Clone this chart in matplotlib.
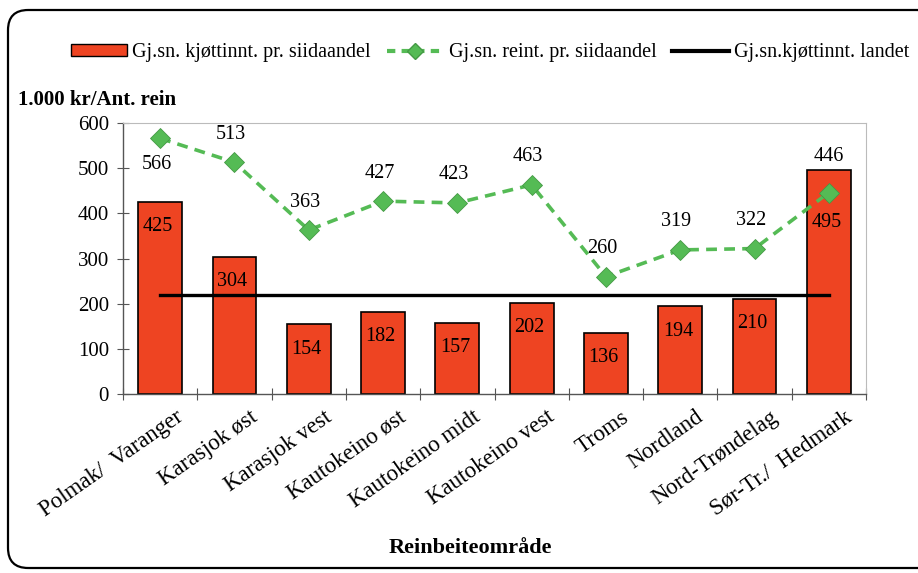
import matplotlib.pyplot as plt
from matplotlib.patches import FancyBboxPatch
from matplotlib.lines import Line2D
from matplotlib.patches import Patch
import numpy as np

plt.rcParams['font.family'] = ['Liberation Serif', 'DejaVu Serif']

areas = ["Polmak/  Varanger", "Karasjok øst", "Karasjok vest", "Kautokeino øst",
         "Kautokeino midt", "Kautokeino vest", "Troms", "Nordland",
         "Nord-Trøndelag", "Sør-Tr./  Hedmark"]
kjott = [425, 304, 154, 182, 157, 202, 136, 194, 210, 495]
reint = [566, 513, 363, 427, 423, 463, 260, 319, 322, 446]
landet = 220

red = "#ee4422"
green = "#55bb55"

fig = plt.figure(figsize=(9.18, 5.73), dpi=100)
ax = fig.add_axes([123 / 918, 1 - 394 / 573, 743 / 918, 271 / 573])

x = np.arange(len(areas))
ax.bar(x, kjott, width=0.59, color=red, edgecolor="black", linewidth=1.2, zorder=2)
ax.plot([x[0], x[-1]], [landet, landet], color="black", linewidth=2.4, zorder=3)
ax.plot(x, reint, color=green, linestyle=(0, (3, 2)), linewidth=2.6, marker="D",
        markersize=10, markerfacecolor=green, markeredgecolor="#449944",
        markeredgewidth=0.6, zorder=4)

# data labels
for i, v in enumerate(kjott):
    off = 115 if i == len(kjott) - 1 else 55
    ax.text(i - 0.03, v - off, str(v), ha="center", va="center", fontsize=14.5, zorder=5)
for i, v in enumerate(reint):
    if i == 0:
        ax.text(i - 0.05, v - 58, str(v), ha="center", va="center", fontsize=14.5, zorder=5)
    elif i == len(reint) - 1:
        ax.text(i, max(v, kjott[i]) + 30, str(v), ha="center", va="center", fontsize=14.5, zorder=5)
    else:
        ax.text(i - 0.05, v + 62, str(v), ha="center", va="center", fontsize=14.5, zorder=5)

ax.set_xlim(-0.5, len(areas) - 0.5)
ax.set_ylim(0, 600)
ax.set_yticks(range(0, 601, 100))
ax.set_xticks(np.arange(-0.5, len(areas), 1), minor=False)
ax.set_xticklabels([])
# category labels hang slightly right of the bar centre
ax.set_xticks(x + 0.2, minor=True)
ax.set_xticklabels(areas, minor=True, rotation=35, ha="right", rotation_mode="anchor",
                   fontsize=16.5)
ax.tick_params(axis="x", which="minor", length=0, pad=9)
ax.tick_params(axis="x", which="major", direction="inout", length=8, color="#555555")
ax.tick_params(axis="y", direction="inout", length=8, color="#555555", labelsize=15, pad=6)
for side in ["top", "right"]:
    ax.spines[side].set_color("#bbbbbb")
for side in ["left", "bottom"]:
    ax.spines[side].set_color("#555555")
    ax.spines[side].set_linewidth(1.0)

fig.text(470 / 918, 1 - 548 / 573, "Reinbeiteområde", fontsize=16, fontweight="bold",
         ha="center", va="center")
fig.text(18 / 918, 1 - 100 / 573, "1.000 kr/Ant. rein", fontsize=15, fontweight="bold",
         ha="left", va="center")

handles = [Patch(facecolor=red, edgecolor="black", linewidth=1.0),
           Line2D([], [], color=green, linestyle=(0, (2, 1.5)), linewidth=3, marker="D",
                  markersize=8, markerfacecolor=green, markeredgecolor="#449944"),
           Line2D([], [], color="black", linewidth=3)]
labels = ["Gj.sn. kjøttinnt. pr. siidaandel", "Gj.sn. reint. pr. siidaandel",
          "Gj.sn.kjøttinnt. landet"]
fig.legend(handles, labels, loc="center", bbox_to_anchor=(490 / 918, 1 - 53 / 573), ncol=3,
           frameon=False, fontsize=14.5, handlelength=2.8, handletextpad=0.25,
           columnspacing=0.8, handleheight=0.55, borderpad=0)

frame = FancyBboxPatch((8 / 918, 1 - 568 / 573), 930 / 918, 558 / 573,
                       boxstyle="round,pad=0,rounding_size=0.022", transform=fig.transFigure,
                       facecolor="none", edgecolor="black", linewidth=1.6,
                       mutation_aspect=918 / 573)
fig.patches.append(frame)

fig.savefig("out.png", dpi=100)
